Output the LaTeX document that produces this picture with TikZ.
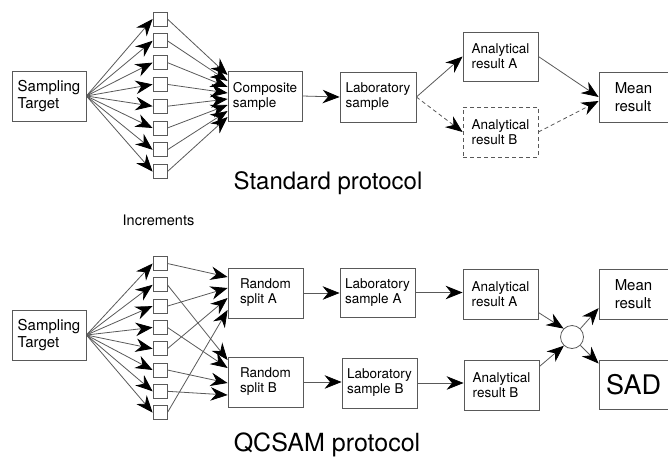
\documentclass[tikz,border=0pt]{standalone}
\usepackage{fontspec}
\setmainfont{TeX Gyre Heros}
\usetikzlibrary{arrows.meta,calc}

\begin{document}
\begin{tikzpicture}[x=1pt,y=-1pt,
  box/.style={draw=black!65, line width=0.8pt, inner sep=0pt, align=left,
    minimum width=75pt, minimum height=50pt,
    font=\fontsize{13.5}{15}\selectfont},
  bigbox/.style={box, font=\fontsize{15}{17.5}\selectfont},
  dashbox/.style={box, dash pattern=on 4pt off 3pt},
  incbox/.style={draw=black!65, line width=0.8pt, inner sep=0pt, minimum size=14pt},
  joint/.style={draw=black!65, line width=0.8pt, circle, inner sep=0pt, minimum size=23pt},
  arr/.style={draw=black!65, line width=0.8pt,
    -{Stealth[length=17pt, width=13.5pt, inset=5.5pt, color=black]}},
  darr/.style={arr, dash pattern=on 4pt off 3pt},
  title/.style={anchor=base, font=\fontsize{24}{28}\selectfont}
]
\useasboundingbox (0,0) rectangle (668,458);

% ---------- Standard protocol ----------
\node[bigbox, minimum width=74pt] (st) at (49,96) {Sampling\\Target};
\foreach \i in {1,...,8}
  \node[incbox] (inc\i) at (160,{19+21.8*(\i-1)}) {};
\node[box, minimum width=74pt] (comp) at (265,96) {Composite\\sample};
\node[box, minimum width=76pt] (labT) at (378,97) {Laboratory\\sample};
\node[box, minimum height=49pt] (anaTA) at (500.5,56.5) {Analytical\\result A};
\node[dashbox] (anaTB) at (500.5,132) {Analytical\\result B};
\node[bigbox, minimum width=69pt] (meanT) at (633.5,97) {Mean\\result};

\foreach \i in {1,...,8} {
  \draw[arr] (st.east) -- (inc\i.west);
  \draw[arr] (inc\i.east) -- ($(comp.west)+(0,{-21+6*(\i-1)})$);
}
\draw[arr] (comp.east) -- (labT.west);
\draw[arr] (labT.east) -- (anaTA.west);
\draw[darr] (labT.east) -- (anaTB.west);
\draw[arr] (anaTA.east) -- (meanT.west);
\draw[darr] (anaTB.east) -- ($(meanT.west)+(0,4)$);

\node[title] (t1) at (328,189) {Standard protocol};

\node[anchor=base, font=\fontsize{14.5}{17}\selectfont] (incl) at (158.5,225) {Increments};

% ---------- QCSAM protocol ----------
\node[bigbox, minimum width=74pt] (st2) at (49,335) {Sampling\\Target};
\foreach \i in {1,...,8}
  \node[incbox] (jnc\i) at (160,{263.5+21.3*(\i-1)}) {};
\node[box] (splA) at (265.5,293) {Random\\split A};
\node[box] (splB) at (265.5,382) {Random\\split B};
\node[box, minimum height=49pt] (labA) at (377.5,292.5) {Laboratory\\sample A};
\node[box] (labB) at (379.5,383) {Laboratory\\sample B};
\node[box] (anaA) at (500.5,294) {Analytical\\result A};
\node[box] (anaB) at (501.5,385) {Analytical\\result B};
\node[joint] (circ) at (572,337) {};
\node[bigbox, minimum width=69pt] (meanB) at (633.5,294) {Mean\\result};
\node[box, minimum width=69pt, minimum height=49pt, align=center,
  font=\fontsize{27}{30}\selectfont] (sad) at (633.5,384.5) {SAD};

\foreach \i in {1,...,8}
  \draw[arr] (st2.east) -- (jnc\i.west);
\foreach \i/\t/\d in {1/splA/-16, 3/splA/-5, 5/splA/5, 8/splA/17,
                      2/splB/-22, 4/splB/-14, 6/splB/1, 7/splB/13}
  \draw[arr] (jnc\i.east) -- ($(\t.west)+(0,\d)$);

\draw[arr] (splA.east) -- (labA.west |- splA.east);
\draw[arr] (labA.east) -- (anaA.west |- labA.east);
\draw[arr] (splB.east) -- (labB.west |- splB.east);
\draw[arr] (labB.east) -- (anaB.west |- labB.east);
\draw[arr] (anaA.-26) -- (circ.135);
\draw[arr] (anaB.26) -- (circ.-133);
\draw[arr] (circ.45) -- (meanB.-158);
\draw[arr] (circ.-45) -- (sad.149);

\node[title, font=\fontsize{25}{29}\selectfont] (t2) at (327,451) {QCSAM protocol};
\end{tikzpicture}
\end{document}
